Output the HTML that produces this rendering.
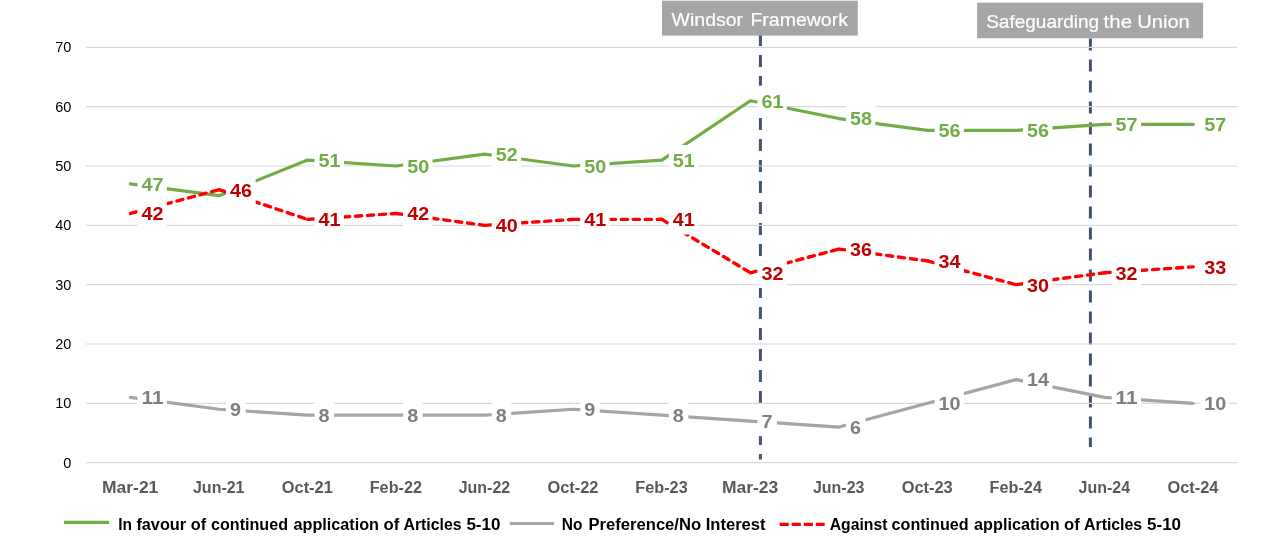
<!DOCTYPE html>
<html lang="en"><head><meta charset="utf-8"><title>Chart</title>
<style>
html,body{margin:0;padding:0;background:#fff;}
body{width:1280px;height:536px;overflow:hidden;}
svg{display:block;}
text{font-family:"Liberation Sans",sans-serif;}
.b{font-weight:bold;}
</style></head><body>
<svg width="1280" height="536" viewBox="0 0 1280 536">
<rect width="1280" height="536" fill="#fff"/>
<g stroke="#44546A" stroke-width="3" stroke-dasharray="12 9" fill="none">
<line x1="760.4" y1="34" x2="760.4" y2="459.4"/>
<line x1="1090.4" y1="38.5" x2="1090.4" y2="447"/>
</g>
<g stroke="#D9D9D9" stroke-width="1.15">
<line x1="86.0" y1="462.65" x2="1237.2" y2="462.65"/>
<line x1="86.0" y1="403.32" x2="1237.2" y2="403.32"/>
<line x1="86.0" y1="343.99" x2="1237.2" y2="343.99"/>
<line x1="86.0" y1="284.66" x2="1237.2" y2="284.66"/>
<line x1="86.0" y1="225.33" x2="1237.2" y2="225.33"/>
<line x1="86.0" y1="166.00" x2="1237.2" y2="166.00"/>
<line x1="86.0" y1="106.67" x2="1237.2" y2="106.67"/>
<line x1="86.0" y1="47.34" x2="1237.2" y2="47.34"/>
</g>
<g font-size="14.5" fill="#000" text-anchor="end">
<text x="71.4" y="467.65">0</text>
<text x="71.4" y="408.32">10</text>
<text x="71.4" y="348.99">20</text>
<text x="71.4" y="289.66">30</text>
<text x="71.4" y="230.33">40</text>
<text x="71.4" y="171.00">50</text>
<text x="71.4" y="111.67">60</text>
<text x="71.4" y="52.34">70</text>
</g>
<g class="b" font-size="16" fill="#595959">
<text x="102.03" y="492.6" textLength="56.3" lengthAdjust="spacingAndGlyphs">Mar-21</text>
<text x="192.99" y="492.6" textLength="51.5" lengthAdjust="spacingAndGlyphs">Jun-21</text>
<text x="281.80" y="492.6" textLength="51.0" lengthAdjust="spacingAndGlyphs">Oct-21</text>
<text x="369.71" y="492.6" textLength="52.3" lengthAdjust="spacingAndGlyphs">Feb-22</text>
<text x="458.67" y="492.6" textLength="51.5" lengthAdjust="spacingAndGlyphs">Jun-22</text>
<text x="547.48" y="492.6" textLength="51.0" lengthAdjust="spacingAndGlyphs">Oct-22</text>
<text x="635.39" y="492.6" textLength="52.3" lengthAdjust="spacingAndGlyphs">Feb-23</text>
<text x="721.95" y="492.6" textLength="56.3" lengthAdjust="spacingAndGlyphs">Mar-23</text>
<text x="812.91" y="492.6" textLength="51.5" lengthAdjust="spacingAndGlyphs">Jun-23</text>
<text x="901.72" y="492.6" textLength="51.0" lengthAdjust="spacingAndGlyphs">Oct-23</text>
<text x="989.63" y="492.6" textLength="52.3" lengthAdjust="spacingAndGlyphs">Feb-24</text>
<text x="1078.59" y="492.6" textLength="51.5" lengthAdjust="spacingAndGlyphs">Jun-24</text>
<text x="1167.40" y="492.6" textLength="51.0" lengthAdjust="spacingAndGlyphs">Oct-24</text>
</g>
<polyline points="130.48,183.80 219.04,195.66 307.60,160.07 396.16,166.00 484.72,154.13 573.28,166.00 661.84,160.07 750.40,100.74 838.96,118.54 927.52,130.40 1016.08,130.40 1104.64,124.47 1193.20,124.47" fill="none" stroke="#70AD47" stroke-width="3.2" stroke-linecap="round" stroke-linejoin="round"/>
<polyline points="130.48,397.39 219.04,409.25 307.60,415.19 396.16,415.19 484.72,415.19 573.28,409.25 661.84,415.19 750.40,421.12 838.96,427.05 927.52,403.32 1016.08,379.59 1104.64,397.39 1193.20,403.32" fill="none" stroke="#A5A5A5" stroke-width="3.2" stroke-linecap="round" stroke-linejoin="round"/>
<g fill="none" stroke="#FF0000" stroke-width="3.4" stroke-linecap="round" stroke-dasharray="6.2 5.8">
<line x1="130.48" y1="213.46" x2="219.04" y2="189.73"/>
<line x1="219.04" y1="189.73" x2="307.60" y2="219.40"/>
<line x1="307.60" y1="219.40" x2="396.16" y2="213.46"/>
<line x1="396.16" y1="213.46" x2="484.72" y2="225.33"/>
<line x1="484.72" y1="225.33" x2="573.28" y2="219.40"/>
<line x1="573.28" y1="219.40" x2="661.84" y2="219.40"/>
<line x1="661.84" y1="219.40" x2="750.40" y2="272.79"/>
<line x1="750.40" y1="272.79" x2="838.96" y2="249.06"/>
<line x1="838.96" y1="249.06" x2="927.52" y2="260.93"/>
<line x1="927.52" y1="260.93" x2="1016.08" y2="284.66"/>
<line x1="1016.08" y1="284.66" x2="1104.64" y2="272.79"/>
<line x1="1104.64" y1="272.79" x2="1193.20" y2="266.86"/>
</g>
<g class="b" font-size="19.2" fill="#70AD47">
<rect x="137.48" y="168.70" width="29.40" height="30.20" fill="#fff"/><text x="141.48" y="190.65" textLength="22.00" lengthAdjust="spacingAndGlyphs">47</text>
<rect x="226.04" y="180.56" width="29.40" height="30.20" fill="#fff"/><text x="230.04" y="202.51" textLength="22.00" lengthAdjust="spacingAndGlyphs">45</text>
<rect x="314.60" y="144.97" width="29.40" height="30.20" fill="#fff"/><text x="318.60" y="166.92" textLength="22.00" lengthAdjust="spacingAndGlyphs">51</text>
<rect x="403.16" y="150.90" width="29.40" height="30.20" fill="#fff"/><text x="407.16" y="172.85" textLength="22.00" lengthAdjust="spacingAndGlyphs">50</text>
<rect x="491.72" y="139.03" width="29.40" height="30.20" fill="#fff"/><text x="495.72" y="160.98" textLength="22.00" lengthAdjust="spacingAndGlyphs">52</text>
<rect x="580.28" y="150.90" width="29.40" height="30.20" fill="#fff"/><text x="584.28" y="172.85" textLength="22.00" lengthAdjust="spacingAndGlyphs">50</text>
<rect x="668.84" y="144.97" width="29.40" height="30.20" fill="#fff"/><text x="672.84" y="166.92" textLength="22.00" lengthAdjust="spacingAndGlyphs">51</text>
<rect x="757.40" y="85.64" width="29.40" height="30.20" fill="#fff"/><text x="761.40" y="107.59" textLength="22.00" lengthAdjust="spacingAndGlyphs">61</text>
<rect x="845.96" y="103.44" width="29.40" height="30.20" fill="#fff"/><text x="849.96" y="125.39" textLength="22.00" lengthAdjust="spacingAndGlyphs">58</text>
<rect x="934.52" y="115.30" width="29.40" height="30.20" fill="#fff"/><text x="938.52" y="137.25" textLength="22.00" lengthAdjust="spacingAndGlyphs">56</text>
<rect x="1023.08" y="115.30" width="29.40" height="30.20" fill="#fff"/><text x="1027.08" y="137.25" textLength="22.00" lengthAdjust="spacingAndGlyphs">56</text>
<rect x="1111.64" y="109.37" width="29.40" height="30.20" fill="#fff"/><text x="1115.64" y="131.32" textLength="22.00" lengthAdjust="spacingAndGlyphs">57</text>
<rect x="1200.20" y="109.37" width="29.40" height="30.20" fill="#fff"/><text x="1204.20" y="131.32" textLength="22.00" lengthAdjust="spacingAndGlyphs">57</text>
</g>
<g class="b" font-size="19.2" fill="#7F7F7F">
<rect x="137.48" y="382.29" width="29.40" height="30.20" fill="#fff"/><text x="141.48" y="404.24" textLength="22.00" lengthAdjust="spacingAndGlyphs">11</text>
<rect x="226.04" y="394.15" width="19.50" height="30.20" fill="#fff"/><text x="230.04" y="416.10" textLength="11.00" lengthAdjust="spacingAndGlyphs">9</text>
<rect x="314.60" y="400.09" width="19.50" height="30.20" fill="#fff"/><text x="318.60" y="422.04" textLength="11.00" lengthAdjust="spacingAndGlyphs">8</text>
<rect x="403.16" y="400.09" width="19.50" height="30.20" fill="#fff"/><text x="407.16" y="422.04" textLength="11.00" lengthAdjust="spacingAndGlyphs">8</text>
<rect x="491.72" y="400.09" width="19.50" height="30.20" fill="#fff"/><text x="495.72" y="422.04" textLength="11.00" lengthAdjust="spacingAndGlyphs">8</text>
<rect x="580.28" y="394.15" width="19.50" height="30.20" fill="#fff"/><text x="584.28" y="416.10" textLength="11.00" lengthAdjust="spacingAndGlyphs">9</text>
<rect x="668.84" y="400.09" width="19.50" height="30.20" fill="#fff"/><text x="672.84" y="422.04" textLength="11.00" lengthAdjust="spacingAndGlyphs">8</text>
<rect x="757.40" y="406.02" width="19.50" height="30.20" fill="#fff"/><text x="761.40" y="427.97" textLength="11.00" lengthAdjust="spacingAndGlyphs">7</text>
<rect x="845.96" y="411.95" width="19.50" height="30.20" fill="#fff"/><text x="849.96" y="433.90" textLength="11.00" lengthAdjust="spacingAndGlyphs">6</text>
<rect x="934.52" y="388.22" width="29.40" height="30.20" fill="#fff"/><text x="938.52" y="410.17" textLength="22.00" lengthAdjust="spacingAndGlyphs">10</text>
<rect x="1023.08" y="364.49" width="29.40" height="30.20" fill="#fff"/><text x="1027.08" y="386.44" textLength="22.00" lengthAdjust="spacingAndGlyphs">14</text>
<rect x="1111.64" y="382.29" width="29.40" height="30.20" fill="#fff"/><text x="1115.64" y="404.24" textLength="22.00" lengthAdjust="spacingAndGlyphs">11</text>
<rect x="1200.20" y="388.22" width="29.40" height="30.20" fill="#fff"/><text x="1204.20" y="410.17" textLength="22.00" lengthAdjust="spacingAndGlyphs">10</text>
</g>
<g class="b" font-size="19.2" fill="#C00000">
<rect x="137.48" y="198.36" width="29.40" height="30.20" fill="#fff"/><text x="141.48" y="220.31" textLength="22.00" lengthAdjust="spacingAndGlyphs">42</text>
<rect x="226.04" y="174.63" width="29.40" height="30.20" fill="#fff"/><text x="230.04" y="196.58" textLength="22.00" lengthAdjust="spacingAndGlyphs">46</text>
<rect x="314.60" y="204.30" width="29.40" height="30.20" fill="#fff"/><text x="318.60" y="226.25" textLength="22.00" lengthAdjust="spacingAndGlyphs">41</text>
<rect x="403.16" y="198.36" width="29.40" height="30.20" fill="#fff"/><text x="407.16" y="220.31" textLength="22.00" lengthAdjust="spacingAndGlyphs">42</text>
<rect x="491.72" y="210.23" width="29.40" height="30.20" fill="#fff"/><text x="495.72" y="232.18" textLength="22.00" lengthAdjust="spacingAndGlyphs">40</text>
<rect x="580.28" y="204.30" width="29.40" height="30.20" fill="#fff"/><text x="584.28" y="226.25" textLength="22.00" lengthAdjust="spacingAndGlyphs">41</text>
<rect x="668.84" y="204.30" width="29.40" height="30.20" fill="#fff"/><text x="672.84" y="226.25" textLength="22.00" lengthAdjust="spacingAndGlyphs">41</text>
<rect x="757.40" y="257.69" width="29.40" height="30.20" fill="#fff"/><text x="761.40" y="279.64" textLength="22.00" lengthAdjust="spacingAndGlyphs">32</text>
<rect x="845.96" y="233.96" width="29.40" height="30.20" fill="#fff"/><text x="849.96" y="255.91" textLength="22.00" lengthAdjust="spacingAndGlyphs">36</text>
<rect x="934.52" y="245.83" width="29.40" height="30.20" fill="#fff"/><text x="938.52" y="267.78" textLength="22.00" lengthAdjust="spacingAndGlyphs">34</text>
<rect x="1023.08" y="269.56" width="29.40" height="30.20" fill="#fff"/><text x="1027.08" y="291.51" textLength="22.00" lengthAdjust="spacingAndGlyphs">30</text>
<rect x="1111.64" y="257.69" width="29.40" height="30.20" fill="#fff"/><text x="1115.64" y="279.64" textLength="22.00" lengthAdjust="spacingAndGlyphs">32</text>
<rect x="1200.20" y="251.76" width="29.40" height="30.20" fill="#fff"/><text x="1204.20" y="273.71" textLength="22.00" lengthAdjust="spacingAndGlyphs">33</text>
</g>
<rect x="662" y="0.7" width="195.8" height="34.9" fill="#A6A6A6"/>
<text font-size="18.8" fill="#fff" stroke="#fff" stroke-width="0.2" y="25.5"><tspan x="671.6" textLength="71.5" lengthAdjust="spacingAndGlyphs">Windsor</tspan> <tspan x="750.4" textLength="97.6" lengthAdjust="spacingAndGlyphs">Framework</tspan></text>
<rect x="977.1" y="2.7" width="226" height="35.6" fill="#A6A6A6"/>
<text font-size="18.8" fill="#fff" stroke="#fff" stroke-width="0.2" y="27.7"><tspan x="986.2" textLength="113" lengthAdjust="spacingAndGlyphs">Safeguarding</tspan> <tspan x="1103.6" textLength="28.4" lengthAdjust="spacingAndGlyphs">the</tspan> <tspan x="1137.2" textLength="52.6" lengthAdjust="spacingAndGlyphs">Union</tspan></text>
<line x1="64" y1="522.4" x2="109" y2="522.4" stroke="#70AD47" stroke-width="3.2"/>
<line x1="509.7" y1="523.5" x2="554" y2="523.5" stroke="#A5A5A5" stroke-width="3.2"/>
<line x1="779.7" y1="524.4" x2="824.7" y2="524.4" stroke="#FF0000" stroke-width="3.2" stroke-dasharray="9.1 2.95"/>
<g class="b" font-size="16" fill="#000">
<text y="529.5"><tspan x="118.25" textLength="13.75" lengthAdjust="spacingAndGlyphs">In</tspan> <tspan x="136.40" textLength="49.70" lengthAdjust="spacingAndGlyphs">favour</tspan> <tspan x="190.75" textLength="15.35" lengthAdjust="spacingAndGlyphs">of</tspan> <tspan x="211.00" textLength="77.00" lengthAdjust="spacingAndGlyphs">continued</tspan> <tspan x="293.50" textLength="85.50" lengthAdjust="spacingAndGlyphs">application</tspan> <tspan x="383.50" textLength="15.75" lengthAdjust="spacingAndGlyphs">of</tspan> <tspan x="403.50" textLength="58.00" lengthAdjust="spacingAndGlyphs">Articles</tspan> <tspan x="466.40" textLength="34.10" lengthAdjust="spacingAndGlyphs">5-10</tspan></text>
<text y="529.5"><tspan x="561.75" textLength="20.65" lengthAdjust="spacingAndGlyphs">No</tspan> <tspan x="588.50" textLength="112.60" lengthAdjust="spacingAndGlyphs">Preference/No</tspan> <tspan x="705.75" textLength="59.75" lengthAdjust="spacingAndGlyphs">Interest</tspan></text>
<text y="529.5"><tspan x="829.75" textLength="57.65" lengthAdjust="spacingAndGlyphs">Against</tspan> <tspan x="891.60" textLength="77.00" lengthAdjust="spacingAndGlyphs">continued</tspan> <tspan x="974.10" textLength="85.50" lengthAdjust="spacingAndGlyphs">application</tspan> <tspan x="1064.10" textLength="15.75" lengthAdjust="spacingAndGlyphs">of</tspan> <tspan x="1084.10" textLength="58.00" lengthAdjust="spacingAndGlyphs">Articles</tspan> <tspan x="1147.00" textLength="34.10" lengthAdjust="spacingAndGlyphs">5-10</tspan></text>
</g>
</svg>
</body></html>
